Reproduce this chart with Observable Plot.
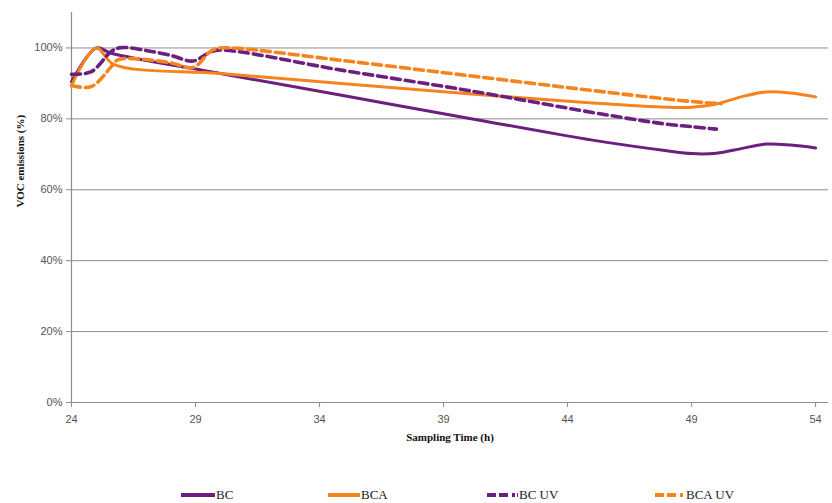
<!DOCTYPE html>
<html>
<head>
<meta charset="utf-8">
<script src="https://cdn.jsdelivr.net/npm/d3@7"></script>
<script src="https://cdn.jsdelivr.net/npm/@observablehq/plot@0.6"></script>
<style>
  html, body { margin: 0; padding: 0; background: #fff; }
  #wrap { position: relative; width: 832px; height: 503px; }
  #legend { position: absolute; left: 0; top: 460px; width: 832px; height: 43px; font-family: "Liberation Serif", "DejaVu Serif", serif; font-size: 13px; color: #222; }
  .item { position: absolute; top: 26px; height: 18px; display: flex; align-items: center; }
  .item svg { margin-right: 1px; }
</style>
</head>
<body>
<div id="wrap"><div id="chart"></div><div id="legend"></div></div>
<script>
// ---- data ----
const seriesNames = ["BC", "BCA", "BC UV", "BCA UV"];
const seriesColors = ["#6b1f7e", "#f5841f", "#6b1f7e", "#f5841f"];
const seriesDashed = [false, false, true, true];

const bcTime  = [24, 25, 25.6, 30, 35, 40, 45, 48, 49, 50, 51, 52, 53, 54];
const bcValue = [90.5, 100, 98.5, 92.8, 86.5, 80.2, 74.0, 71.0, 70.2, 70.3, 71.6, 72.9, 72.6, 71.8];

const bcaTime  = [24, 25, 25.7, 30, 35, 40, 45, 48, 49, 50, 51, 52, 53, 54];
const bcaValue = [89.4, 100, 95.4, 92.8, 89.9, 87.1, 84.5, 83.3, 83.3, 84.2, 86.2, 87.6, 87.3, 86.2];

const bcuvTime  = [24, 24.8, 25.6, 26.0, 27, 28, 28.9, 29.5, 29.9, 35, 40, 45, 47, 48, 49, 50];
const bcuvValue = [92.6, 93.3, 99.0, 100.1, 99.3, 97.9, 96.3, 98.5, 99.4, 93.6, 88.0, 81.8, 79.5, 78.5, 77.8, 77.1];

const bcauvTime  = [24, 24.8, 25.6, 25.85, 26.5, 28, 28.9, 29.6, 29.9, 30.5, 35, 40, 45, 48, 49.5, 50.2];
const bcauvValue = [89.4, 89.1, 94.7, 96.6, 97.0, 95.8, 94.5, 99.0, 99.9, 100.0, 96.4, 92.2, 88.0, 85.6, 84.6, 84.3];

const xTicks = [24, 29, 34, 39, 44, 49, 54];
const yTicks = [0, 20, 40, 60, 80, 100];
const xTitle = "Sampling Time (h)";
const yTitle = "VOC emissions (%)";

// ---- build table ----
const allTimes = [bcTime, bcaTime, bcuvTime, bcauvTime];
const allValues = [bcValue, bcaValue, bcuvValue, bcauvValue];
const rows = [];
seriesNames.forEach((name, i) => {
  allTimes[i].forEach((t, j) => rows.push({series: name, time: t, value: allValues[i][j]}));
});

const grid = "#8c8c8c";
const lineMarks = seriesNames.map((name, i) =>
  Plot.line(rows.filter(r => r.series === name), {
    x: "time", y: "value",
    stroke: seriesColors[i],
    strokeWidth: seriesDashed[i] ? 3.6 : 3,
    strokeDasharray: seriesDashed[i] ? "9,5" : null,
    curve: "catmull-rom"
  })
);

const chart = Plot.plot({
  width: 832,
  height: 460,
  marginLeft: 71,
  marginRight: 4,
  marginTop: 12,
  marginBottom: 58,
  style: {fontFamily: "Liberation Sans, Arial, sans-serif", fontSize: "11px", color: "#555", background: "#fff"},
  x: {domain: [24, 54.52], label: null},
  y: {domain: [0, 110], label: null},
  marks: [
    Plot.ruleY(yTicks.filter(d => d > 0), {stroke: grid, strokeWidth: 1}),
    Plot.ruleX([24], {y1: 0, y2: 110, stroke: grid, strokeWidth: 1.2}),
    Plot.ruleY([0], {stroke: grid, strokeWidth: 1.2}),
    Plot.axisX({ticks: xTicks, tickSize: 5, tickPadding: 8, tickFormat: d => String(d), stroke: grid, fill: "#555", label: null}),
    Plot.axisY({ticks: yTicks, tickSize: 5, tickPadding: 4, tickFormat: d => d + "%", stroke: grid, fill: "#555", label: null}),
    ...lineMarks,
    Plot.text([xTitle], {frameAnchor: "bottom", dy: 38, fontFamily: "Liberation Serif, serif", fontWeight: "bold", fontSize: 11, fill: "#111"}),
    Plot.text([yTitle], {frameAnchor: "left", dx: -51, rotate: -90, fontFamily: "Liberation Serif, serif", fontWeight: "bold", fontSize: 11, fill: "#111"})
  ]
});
document.getElementById("chart").appendChild(chart);

// ---- legend ----
const legendLeft = [181, 328, 487, 655];
const legendSwatch = [34, 32, 31, 30];
const legend = document.getElementById("legend");
seriesNames.forEach((name, i) => {
  const item = document.createElement("div");
  item.className = "item";
  item.style.left = legendLeft[i] + "px";
  const w = legendSwatch[i];
  const dash = seriesDashed[i] ? 'stroke-dasharray="9,3,9,4,3,2"' : "";
  item.innerHTML = `<svg width="${w}" height="10"><line x1="0" y1="5" x2="${w}" y2="5" stroke="${seriesColors[i]}" stroke-width="4" ${dash}/></svg><span>${name}</span>`;
  legend.appendChild(item);
});
</script>
</body>
</html>
